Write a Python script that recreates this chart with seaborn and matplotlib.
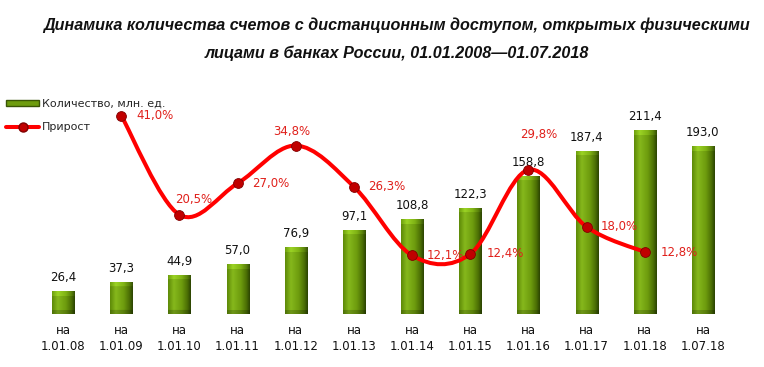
import numpy as np
import pandas as pd
import seaborn as sns
import matplotlib.pyplot as plt
from matplotlib import font_manager
from matplotlib.path import Path
from matplotlib.patches import PathPatch, Patch
from matplotlib.lines import Line2D
from matplotlib.colors import to_rgb

# data
dates = ["1.01.08", "1.01.09", "1.01.10", "1.01.11", "1.01.12", "1.01.13",
         "1.01.14", "1.01.15", "1.01.16", "1.01.17", "1.01.18", "1.07.18"]
accounts = [26.4, 37.3, 44.9, 57.0, 76.9, 97.1, 108.8, 122.3, 158.8, 187.4, 211.4, 193.0]
growth_dates = dates[1:11]
growth = [41.0, 20.5, 27.0, 34.8, 26.3, 12.1, 12.4, 29.8, 18.0, 12.8]

df = pd.DataFrame({"date": dates, "accounts": accounts})
gdf = pd.DataFrame({"date": growth_dates, "growth": growth})
gdf["x"] = [dates.index(d) for d in growth_dates]

sns.set_theme(style="white")
plt.rcParams["font.family"] = ["DejaVu Sans"]

W, H = 764, 367
fig = plt.figure(figsize=(W / 100, H / 100), dpi=100)
# plot area: bottom at y=314px, top at y=95px
ax = fig.add_axes([34 / W, (H - 314) / H, 698 / W, 219 / H])
ymax = 219 / 0.87
ymax2 = 219 / 4.84

sns.barplot(data=df, x="date", y="accounts", ax=ax, color="#6E9C0E",
            width=0.38, edgecolor="#3A5505", linewidth=0.6, saturation=1)

# bevelled look: horizontal shading plus light top / dark bottom band
stops = [(0.0, "#5E8A08"), (0.25, "#86B81C"), (0.6, "#6E9C0E"), (0.85, "#4C7005"), (1.0, "#2C4402")]
gx = np.linspace(0, 1, 48)
row = np.column_stack([np.interp(gx, [s[0] for s in stops], [to_rgb(s[1])[c] for s in stops])
                       for c in range(3)])
for p, v in zip(list(ax.patches), accounts):
    x0, y0 = p.get_x(), p.get_y()
    w, h = p.get_width(), p.get_height()
    npx = max(int(round(v * 0.87)), 8)
    img = np.repeat(row[None, :, :], npx, axis=0)
    img[:5] = np.clip(img[:5] * 1.12 + 0.02, 0, 1)
    img[-4:] = img[-4:] * 0.82
    im = ax.imshow(img, extent=[x0, x0 + w, y0, y0 + h], origin="upper",
                   aspect="auto", zorder=p.get_zorder() + 0.1, interpolation="bilinear")
    im.set_clip_path(p)

for i, v in enumerate(accounts):
    ax.annotate(f"{v:.1f}".replace(".", ","), (i, v), xytext=(0, 5),
                textcoords="offset points", ha="center", va="bottom",
                fontsize=8.5, color="#111111")

ax.set_xlim(-0.5, len(dates) - 0.5)
ax.set_ylim(0, ymax)
ax.set_xticks(range(len(dates)))
ax.set_xticklabels(["на\n" + d for d in dates], fontsize=8.5, color="#111111",
                   linespacing=1.35)
ax.tick_params(axis="x", length=0, pad=7)
ax.set_yticks([])
ax.set_xlabel("")
ax.set_ylabel("")
for s in ax.spines.values():
    s.set_visible(False)

ax2 = ax.twinx()
ax2.set_ylim(0, ymax2)
ax2.set_yticks([])
for s in ax2.spines.values():
    s.set_visible(False)

# smoothed line (Bezier through the points, like a spreadsheet smooth line)
xs = gdf["x"].to_numpy(float)
ys = gdf["growth"].to_numpy(float)
pts = np.column_stack([xs, ys])
ext = np.vstack([pts[0], pts, pts[-1]])
verts = [tuple(pts[0])]
codes = [Path.MOVETO]
for k in range(1, len(ext) - 2):
    p0, p1, p2, p3 = ext[k - 1], ext[k], ext[k + 1], ext[k + 2]
    c1 = p1 + (p2 - p0) / 6
    c2 = p2 - (p3 - p1) / 6
    verts += [tuple(c1), tuple(c2), tuple(p2)]
    codes += [Path.CURVE4] * 3
ax2.add_patch(PathPatch(Path(verts, codes), facecolor="none", edgecolor="#FF0000",
                        linewidth=2.9, zorder=3, capstyle="round"))

sns.scatterplot(data=gdf, x="x", y="growth", ax=ax2, s=50, color="#C00000",
                edgecolor="#800000", linewidth=0.6, zorder=4, legend=False)
ax2.set_xlabel("")
ax2.set_ylabel("")

# label offsets in pixels: (dx, dy, ha)
offsets = [(15, 0, "left"), (14, 15, "center"), (15, 0, "left"), (-4, 14, "center"),
           (14, 0, "left"), (15, 0, "left"), (16, 0, "left"), (10, 35, "center"),
           (14, 0, "left"), (16, 0, "left")]
for xi, g, (dx, dy, ha) in zip(xs, ys, offsets):
    ax2.annotate(f"{g:.1f}%".replace(".", ","), (xi, g), xytext=(dx * 0.72, dy * 0.72),
                 textcoords="offset points", ha=ha, va="center",
                 fontsize=8.5, color="#E0201B", zorder=5)

handles = [Patch(facecolor="#6E9C0E", edgecolor="#3A5505"),
           Line2D([0], [0], color="#FF0000", lw=2.9, marker="o", markersize=6.5,
                  markerfacecolor="#C00000", markeredgecolor="#800000")]
fig.legend(handles, ["Количество, млн. ед.", "Прирост"], loc="upper left",
           bbox_to_anchor=(6 / W, 1 - 99 / H), frameon=False, fontsize=8,
           handlelength=3.0, handletextpad=0.25, labelspacing=1.2,
           borderpad=0, borderaxespad=0, handleheight=0.5)

# title: narrow bold italic if such a font exists, otherwise fit the width
names = {f.name for f in font_manager.fontManager.ttflist}
title_family = ["Liberation Sans Narrow"] if "Liberation Sans Narrow" in names else ["Liberation Sans", "DejaVu Sans"]
stretch = "condensed"
t1 = fig.text(397 / W, 1 - 25 / H,
              "Динамика количества счетов с дистанционным доступом, открытых физическими",
              ha="center", va="center", fontsize=14, fontweight="bold", style="italic",
              family=title_family, fontstretch=stretch, color="#111111")
t2 = fig.text(397 / W, 1 - 53 / H, "лицами в банках России, 01.01.2008\u201401.07.2018",
              ha="center", va="center", fontsize=14, fontweight="bold", style="italic",
              family=title_family, fontstretch=stretch, color="#111111")
renderer = fig.canvas.get_renderer()
wpx = t1.get_window_extent(renderer).width
size = 14 * 710 / wpx
t1.set_fontsize(size)
t2.set_fontsize(size)

fig.savefig("out.png", dpi=100)
